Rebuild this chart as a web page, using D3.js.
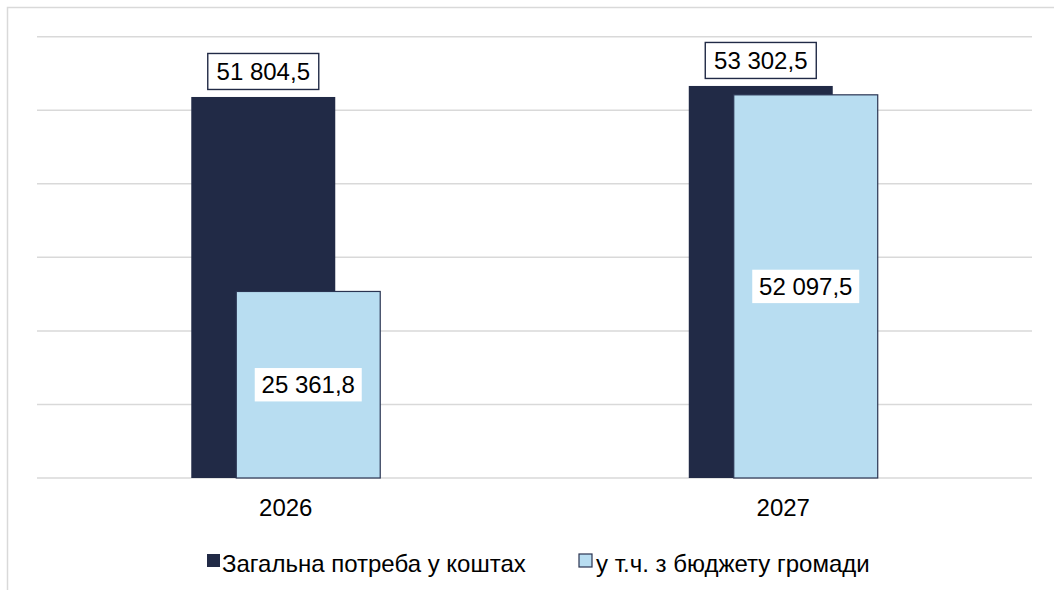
<!DOCTYPE html>
<html>
<head>
<meta charset="utf-8">
<script src="https://cdn.jsdelivr.net/npm/d3@7"></script>
<style>
  html, body { margin: 0; padding: 0; background: #fff; }
  svg text { font-family: "Liberation Sans", Arial, sans-serif; fill: #000; }
</style>
</head>
<body>
<svg id="chart" width="1054" height="590"></svg>
<script>
// Years on the category axis
const years = ["2026", "2027"];
// Total funding need and the community budget share, per year
const totalNeed = [51804.5, 53302.5];
const budgetShare = [25361.8, 52097.5];
// Value axis gridlines
const yTicks = [0, 10000, 20000, 30000, 40000, 50000, 60000];
// Legend entries
const seriesNames = ["Загальна потреба у коштах", "у т.ч. з бюджету громади"];

const colors = { dark: "#212A46", light: "#B8DDF1", grid: "#D9D9D9", edge: "#2A3452" };

const svg = d3.select("#chart");
const plot = { left: 37, right: 1032, top: 36.7, bottom: 478 };

const x = d3.scaleBand().domain(years).range([plot.left, plot.right]).padding(0);
const y = d3.scaleLinear().domain([0, 60000]).range([plot.bottom, plot.top]);

const fmt = v => d3.format(",.1f")(v).replace(",", " ").replace(".", ",");

// Chart-area outline
svg.append("rect")
  .attr("x", 7.5).attr("y", 7.5).attr("width", 1200).attr("height", 800)
  .attr("fill", "none").attr("stroke", colors.grid).attr("stroke-width", 1.5);

// Horizontal gridlines
svg.append("g").selectAll("line").data(yTicks).join("line")
  .attr("x1", plot.left).attr("x2", plot.right)
  .attr("y1", d => y(d)).attr("y2", d => y(d))
  .attr("stroke", colors.grid).attr("stroke-width", 1.5);

const bw = x.bandwidth();
const barW = bw * 0.2894;
const shift = bw * 0.0452;
const center = d => x(d) + bw / 2;

// Total need bars (behind)
svg.append("g").selectAll("rect").data(years).join("rect")
  .attr("x", (d, i) => center(d) - shift - barW / 2)
  .attr("y", (d, i) => y(totalNeed[i]))
  .attr("width", barW)
  .attr("height", (d, i) => y(0) - y(totalNeed[i]))
  .attr("fill", colors.dark);

// Community budget bars (in front, overlapping)
svg.append("g").selectAll("rect").data(years).join("rect")
  .attr("x", (d, i) => center(d) + shift - barW / 2)
  .attr("y", (d, i) => y(budgetShare[i]))
  .attr("width", barW)
  .attr("height", (d, i) => y(0) - y(budgetShare[i]))
  .attr("fill", colors.light)
  .attr("stroke", colors.edge).attr("stroke-width", 1.2);

// Boxed labels above the total bars
const topLabels = svg.append("g").selectAll("g").data(years).join("g")
  .attr("transform", (d, i) => `translate(${center(d) - shift},${y(totalNeed[i]) - 7.5 - 18})`);
topLabels.append("rect")
  .attr("x", -55.5).attr("y", -18).attr("width", 111).attr("height", 36)
  .attr("fill", "#fff").attr("stroke", colors.dark).attr("stroke-width", 1.4);
topLabels.append("text")
  .attr("text-anchor", "middle").attr("dy", "0.35em")
  .style("font-size", "24px")
  .text((d, i) => fmt(totalNeed[i]));

// White labels centred inside the budget bars
const inLabels = svg.append("g").selectAll("g").data(years).join("g")
  .attr("transform", (d, i) => `translate(${center(d) + shift},${(y(budgetShare[i]) + y(0)) / 2})`);
inLabels.append("rect")
  .attr("x", -53.5).attr("y", -16.7).attr("width", 107).attr("height", 33.4)
  .attr("fill", "#fff");
inLabels.append("text")
  .attr("text-anchor", "middle").attr("dy", "0.35em")
  .style("font-size", "24px")
  .text((d, i) => fmt(budgetShare[i]));

// Category axis labels
svg.append("g").selectAll("text").data(years).join("text")
  .attr("x", d => center(d)).attr("y", 516)
  .attr("text-anchor", "middle")
  .style("font-size", "24px")
  .text(d => d);

// Legend
const legendItems = [
  { name: seriesNames[0], fill: colors.dark, sx: 207, tx: 222, stroke: "none" },
  { name: seriesNames[1], fill: colors.light, sx: 579, tx: 596, stroke: colors.edge }
];
const lg = svg.append("g").selectAll("g").data(legendItems).join("g");
lg.append("rect")
  .attr("x", d => d.sx).attr("y", 554).attr("width", 13).attr("height", 13)
  .attr("fill", d => d.fill).attr("stroke", d => d.stroke).attr("stroke-width", 1.2);
lg.append("text")
  .attr("x", d => d.tx).attr("y", 572)
  .style("font-size", "24px")
  .text(d => d.name);
</script>
</body>
</html>
